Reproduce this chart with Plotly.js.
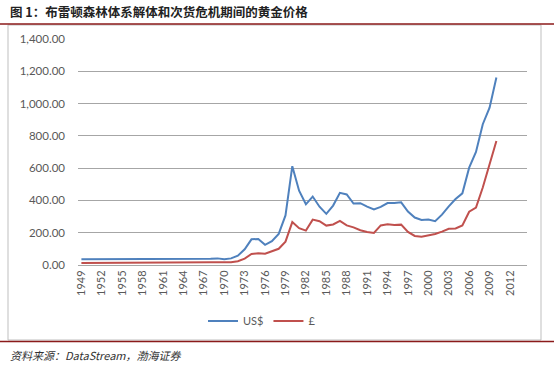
<!DOCTYPE html>
<html>
<head>
<meta charset="utf-8">
<script src="https://cdn.plot.ly/plotly-3.0.1.min.js"></script>
<style>
html,body{margin:0;padding:0;background:#fff;}
#chart{width:554px;height:366px;}
</style>
</head>
<body>
<div id="chart"></div>
<script>
// ---- data ----
const years = [];
for (let y = 1949; y <= 2010; y++) years.push(y);
const usd = [
  35,35,35,35,35,35,35,35,35,35,35,35,35,35,35,35,35,35,35, // 1949-1967
  39,41,36,41,58,97,159,161,125,148,193,307,612,460,376,424,361,317,368,447,437,381,383,362,344,360,384,384,388,331,294,279,282,271,312,363,409,444,603,700,872,975,1162
];
const gbp = [
  12.5,12.5,12.5,12.5,12.5,12.5,12.5,12.5,12.5,12.5,12.5,12.5,12.5,12.5,12.5,12.5,12.5,12.5,12.7, // 1949-1967
  16.3,17.2,15.0,16.8,23.1,39.6,68,72.6,69.3,84.9,100.5,144.8,266,228,213,281,271,244,251,273,245,233,215,205,198,245,253,248,250,205,180,175,184,192,207,224,226,245,330,355,480,625,768
];
const tickYears = [];
for (let y = 1949; y <= 2012; y += 3) tickYears.push(y);
const seriesNames = ['US$', '£'];
const titleText = '图 1：布雷顿森林体系解体和次货危机期间的黄金价格';
const sourceText = '资料来源：DataStream，渤海证券';

// ---- layout helpers ----
const W = 554, H = 366;
const L = 78, R = 527, T = 39, B = 265;
const px = x => (x - L) / (R - L);
const py = y => (B - y) / (B - T);

const traces = [
  {x: years, y: usd, name: seriesNames[0], type: 'scatter', mode: 'lines',
   line: {color: '#4F81BD', width: 2}},
  {x: years, y: gbp, name: seriesNames[1], type: 'scatter', mode: 'lines',
   line: {color: '#C0504D', width: 2}}
];

const layout = {
  width: W, height: H,
  margin: {l: L, r: W - R, t: T, b: H - B},
  paper_bgcolor: '#fff', plot_bgcolor: '#fff',
  showlegend: true,
  legend: {orientation: 'h', x: px(262), xanchor: 'center', y: py(321), yanchor: 'middle',
           font: {family: 'Lato, sans-serif', size: 11, color: '#595959'},
           itemwidth: 30, tracegroupgap: 0, bgcolor: 'rgba(0,0,0,0)'},
  xaxis: {
    range: [1948.5, 2014.5], tickmode: 'array', tickvals: tickYears,
    ticktext: tickYears.map(String), tickangle: -90,
    showgrid: false, zeroline: false, showline: true, linecolor: '#a6a6a6', linewidth: 1,
    ticks: '', tickfont: {family: 'Lato, sans-serif', size: 11, color: '#595959'},
    fixedrange: true
  },
  yaxis: {
    range: [0, 1400], dtick: 200, tickformat: ',.2f',
    showgrid: true, gridcolor: '#a6a6a6', gridwidth: 1, zeroline: false,
    showline: false, ticks: '', ticklen: 0, ticklabelstandoff: 12,
    tickfont: {family: 'Lato, sans-serif', size: 11.5, color: '#595959'},
    fixedrange: true
  },
  shapes: [
    {type: 'rect', xref: 'paper', yref: 'paper', x0: px(8), x1: px(541), y0: py(340), y1: py(25),
     line: {color: '#bfbfbf', width: 1}, layer: 'below'},
    {type: 'line', xref: 'paper', yref: 'paper', x0: px(0), x1: px(554), y0: py(24), y1: py(24),
     line: {color: '#8B1A1A', width: 1.5}},
    {type: 'line', xref: 'paper', yref: 'paper', x0: px(0), x1: px(554), y0: py(341.5), y1: py(341.5),
     line: {color: '#8B1A1A', width: 1.5}}
  ],
  annotations: [
    {text: '<b>' + titleText + '</b>', xref: 'paper', yref: 'paper', x: px(8), y: py(11),
     xanchor: 'left', yanchor: 'middle', showarrow: false,
     font: {family: '"Noto Sans CJK SC", sans-serif', size: 12.5, color: '#222'}},
    {text: '<i>' + sourceText + '</i>', xref: 'paper', yref: 'paper', x: px(8), y: py(355),
     xanchor: 'left', yanchor: 'middle', showarrow: false,
     font: {family: '"Noto Sans CJK SC", "Liberation Serif", serif', size: 11, color: '#333'}}
  ]
};

Plotly.newPlot('chart', traces, layout, {displayModeBar: false, staticPlot: true});
</script>
</body>
</html>
